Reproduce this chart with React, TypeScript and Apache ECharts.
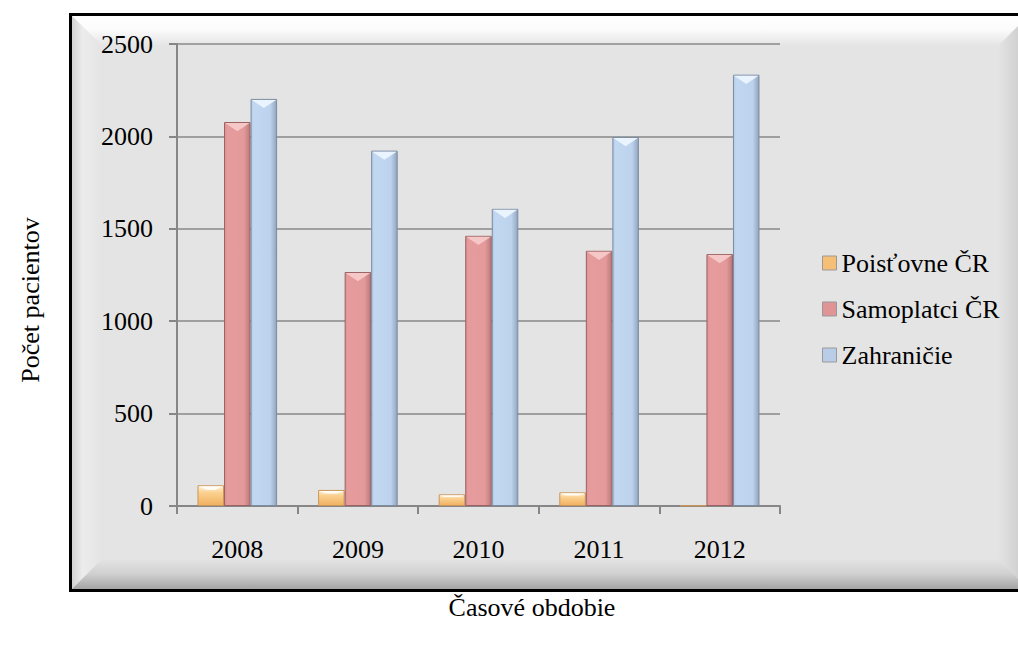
import React, { useEffect, useRef } from "react";
import * as echarts from "echarts";

const categories = ["2008", "2009", "2010", "2011", "2012"];
const seriesNames = ["Poisťovne ČR", "Samoplatci ČR", "Zahraničie"];
const poistovne = [112, 87, 63, 74, 3];
const samoplatci = [2078, 1266, 1462, 1381, 1363];
const zahranicie = [2203, 1923, 1608, 1997, 2334];
const yTicks = { min: 0, max: 2500, interval: 500 };
const yTitle = "Počet pacientov";
const xTitle = "Časové obdobie";

const FONT = "'Liberation Serif', 'Times New Roman', serif";

function hGrad(stops: [number, string][]) {
  return new echarts.graphic.LinearGradient(
    0, 0, 1, 0,
    stops.map(([offset, color]) => ({ offset, color }))
  );
}
function vGrad(stops: [number, string][]) {
  return new echarts.graphic.LinearGradient(
    0, 0, 0, 1,
    stops.map(([offset, color]) => ({ offset, color }))
  );
}

export default function App() {
  const ref = useRef<HTMLDivElement>(null);
  useEffect(() => {
    if (!ref.current) return;
    const chart = echarts.init(ref.current, null, { renderer: "svg" });

    const barStyles = [
      {
        color: vGrad([[0, "#fff4dc"], [0.35, "#fbd08f"], [1, "#f0b060"]]),
        borderColor: "#c9955a",
      },
      {
        color: hGrad([[0, "#d99091"], [0.1, "#e69c9d"], [0.75, "#e49a9b"], [0.9, "#cc8788"], [1, "#b97677"]]),
        borderColor: "#9c6263",
      },
      {
        color: hGrad([[0, "#b3c8e2"], [0.1, "#c2d7f0"], [0.75, "#bdd2ec"], [0.9, "#a3b7d1"], [1, "#90a3bd"]]),
        borderColor: "#7b8ca3",
      },
    ];
    const legendColors = ["#f6bf76", "#e09495", "#b9cde8"];
    const dataSets = [poistovne, samoplatci, zahranicie];

    const series: any[] = seriesNames.map((name, i) => ({
      name,
      type: "bar",
      data: dataSets[i],
      barGap: "0%",
      barCategoryGap: "34%",
      itemStyle: { ...barStyles[i], borderWidth: 1 },
      emphasis: { disabled: true },
    }));

    // top bevel chevrons on each bar, placed through the axis scales
    series.push({
      type: "custom",
      name: "bevel",
      silent: true,
      z: 5,
      data: categories.map((c, ci) => [ci, poistovne[ci], samoplatci[ci], zahranicie[ci]]),
      renderItem: (params: any, api: any) => {
        const ci = api.value(0);
        const band = api.size([1, 0])[0];
        const bw = (band * (1 - 0.34)) / 3;
        const center = api.coord([ci, 0]);
        const startX = center[0] - 1.5 * bw;
        const children: any[] = [];
        const fills = ["#fffaf0", "#f5c7c7", "#eaf4ff"];
        for (let s = 0; s < 3; s++) {
          const v = api.value(s + 1);
          const top = api.coord([ci, v])[1];
          const h = center[1] - top;
          if (h < 4) continue;
          const x0 = startX + s * bw + 1;
          const x1 = startX + (s + 1) * bw - 1;
          const depth = Math.min((x1 - x0) / 2, h * 0.5);
          if (s === 0) {
            children.push({
              type: "polygon",
              shape: { points: [[x0, top + 1], [x1, top + 1], [x1 - depth * 0.8, top + Math.min(depth, h) * 0.45], [x0 + depth * 0.8, top + Math.min(depth, h) * 0.45]] },
              style: { fill: "rgba(255,255,255,0.85)" },
            });
          } else {
            children.push({
              type: "polygon",
              shape: { points: [[x0, top + 1], [x1, top + 1], [(x0 + x1) / 2, top + depth * 0.75]] },
              style: { fill: fills[s] },
            });
          }
        }
        return { type: "group", children };
      },
    });

    const txt = { fontFamily: FONT, fontSize: 26, color: "#000", fontWeight: "normal" };

    const option: any = {
      animation: false,
      backgroundColor: "#ffffff",
      textStyle: { fontFamily: FONT },
      grid: {
        show: true,
        left: 177,
        right: 1018 - 780,
        top: 44,
        bottom: 647 - 506,
        backgroundColor: "#ffffff",
        borderWidth: 0,
        containLabel: false,
      },
      legend: {
        orient: "vertical",
        left: 822,
        top: 248,
        padding: 0,
        itemWidth: 14,
        itemHeight: 14,
        itemGap: 16,
        icon: "rect",
        data: seriesNames.map((n, i) => ({
          name: n,
          itemStyle: { color: legendColors[i], borderColor: "#999", borderWidth: 1 },
          textStyle: { ...txt },
        })),
        textStyle: { ...txt, lineHeight: 30 },
        selectedMode: false,
      },
      xAxis: {
        type: "category",
        data: categories,
        axisLine: { lineStyle: { color: "#868686", width: 2 } },
        axisTick: { show: true, length: 8, lineStyle: { color: "#868686", width: 2 } },
        axisLabel: { ...txt, margin: 30 },
      },
      yAxis: {
        type: "value",
        min: yTicks.min,
        max: yTicks.max,
        interval: yTicks.interval,
        axisLine: { show: true, lineStyle: { color: "#868686", width: 2 } },
        axisTick: { show: true, length: 8, lineStyle: { color: "#868686", width: 2 } },
        splitLine: { lineStyle: { color: "#888888", width: 1.5 } },
        axisLabel: { ...txt, margin: 24, formatter: (v: number) => String(v) },
      },
      graphic: [
        {
          type: "group",
          z: -10,
          silent: true,
          children: [
            { type: "rect", shape: { x: 70.5, y: 14.5, width: 990, height: 576 }, style: { fill: "#e4e4e4", stroke: "#000", lineWidth: 3 } },
            {
              type: "polygon",
              shape: { points: [[72, 16], [1059, 16], [1029, 46], [102, 46]] },
              style: { fill: vGrad([[0, "#ffffff"], [0.45, "#fbfbfb"], [1, "#e4e4e4"]]) },
            },
            {
              type: "polygon",
              shape: { points: [[72, 16], [102, 46], [102, 559], [72, 589]] },
              style: { fill: hGrad([[0, "#d2d2d2"], [0.35, "#ececec"], [1, "#e4e4e4"]]) },
            },
            {
              type: "polygon",
              shape: { points: [[72, 589], [102, 559], [1029, 559], [1059, 589]] },
              style: { fill: vGrad([[0, "#e4e4e4"], [0.5, "#d0d0d0"], [1, "#a4a4a4"]]) },
            },
            {
              type: "polygon",
              shape: { points: [[998, 46], [1028, 16], [1028, 589], [998, 559]] },
              style: { fill: hGrad([[0, "#e4e4e4"], [1, "#c8c8c8"]]) },
            },
          ],
        },
        {
          type: "text",
          x: 30,
          y: 300,
          rotation: Math.PI / 2,
          style: { text: yTitle, x: 0, y: 0, align: "center", verticalAlign: "middle", font: "26px " + FONT, fill: "#000" },
        },
        {
          type: "text",
          x: 532,
          y: 607,
          style: { text: xTitle, x: 0, y: 0, align: "center", verticalAlign: "middle", font: "26px " + FONT, fill: "#000" },
        },
      ],
      series,
    };
    chart.setOption(option);
    return () => chart.dispose();
  }, []);
  return (
    <div
      ref={ref}
      style={{ position: "absolute", left: 0, top: 0, width: 1018, height: 647 }}
    />
  );
}
